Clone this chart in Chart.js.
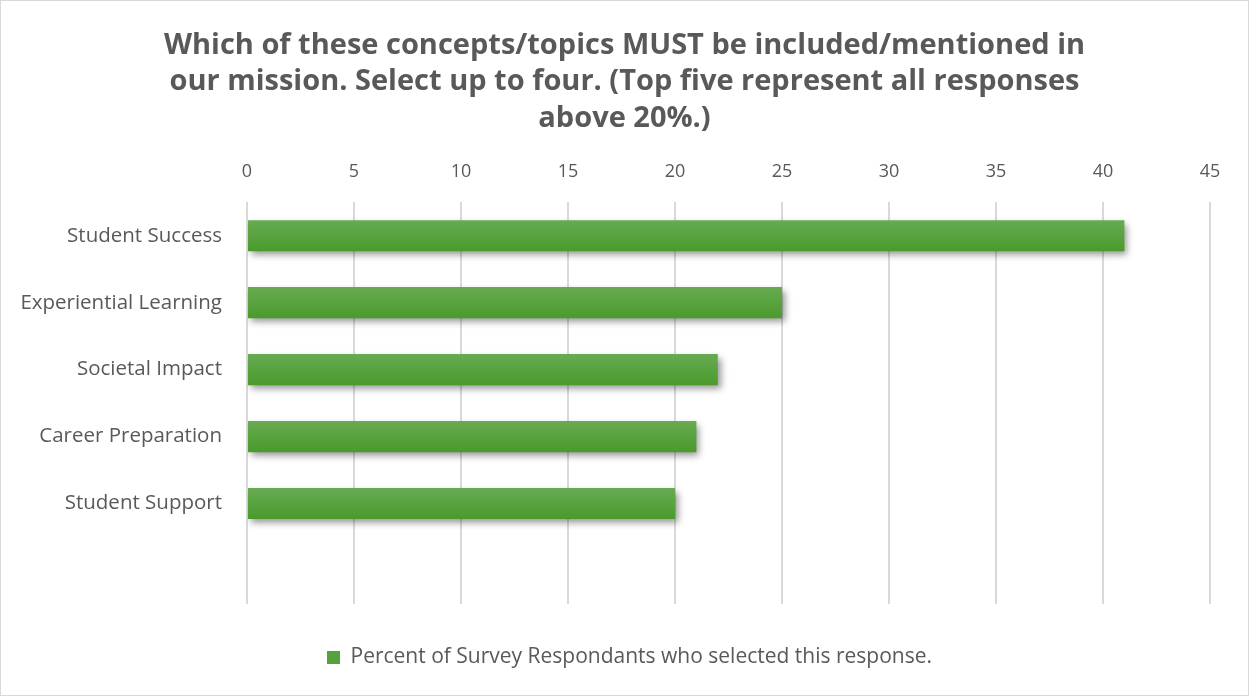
<!DOCTYPE html>
<html><head><meta charset="utf-8">
<script src="https://cdn.jsdelivr.net/npm/chart.js@4"></script>
<style>
html,body{margin:0;padding:0;background:#fff;}
#wrap{position:absolute;left:0;top:0;width:1247px;height:694px;border:1px solid #d9d9d9;}
</style></head>
<body><div id="wrap"><canvas id="c" width="1247" height="694"></canvas></div>
<script>
const titleLines = ["Which of these concepts/topics MUST be included/mentioned in", "our mission. Select up to four. (Top five represent all responses", "above 20%.)"];
const categories = ["Student Success", "Experiential Learning", "Societal Impact", "Career Preparation", "Student Support", ""];
const seriesName = "Percent of Survey Respondants who selected this response.";
const values = [41, 25, 22, 21, 20, null];
const xTicks = [0, 5, 10, 15, 20, 25, 30, 35, 40, 45];

const BAR_PCT = 0.465;
function barGradient(ctx) {
  const chart = ctx.chart;
  const y = chart.scales && chart.scales.y;
  if (!y || ctx.type !== 'data' || !y.height) return '#55a13a';
  const c = y.getPixelForValue(ctx.dataIndex);
  const slot = y.height / categories.length;
  const h = slot * BAR_PCT / 2;
  const g = chart.ctx.createLinearGradient(0, c - h, 0, c + h);
  g.addColorStop(0, '#67ab52');
  g.addColorStop(1, '#4a9a2c');
  return g;
}

const shadowPlugin = {
  id: 'shadow',
  afterLayout(chart) {
    const t = chart.titleBlock;
    if (t) { t.left = 0; t.right = chart.width; t.width = chart.width; }
    const l = chart.legend;
    if (l) { l.left = 10; l.right = chart.width; l.width = chart.width - 10; }
  },
  beforeDatasetsDraw(chart) {
    const c = chart.ctx; c.save();
    c.shadowColor = 'rgba(0,0,0,0.42)';
    c.shadowBlur = 7; c.shadowOffsetX = 3; c.shadowOffsetY = 4;
  },
  afterDatasetsDraw(chart) { chart.ctx.restore(); }
};

new Chart(document.getElementById('c'), {
  type: 'bar',
  data: {
    labels: categories,
    datasets: [{
      label: seriesName,
      data: values,
      backgroundColor: barGradient,
      borderWidth: 0,
      categoryPercentage: 1,
      barPercentage: BAR_PCT
    }]
  },
  options: {
    indexAxis: 'y',
    responsive: false,
    animation: false,
    layout: { padding: { left: 14, right: 38, top: 0, bottom: 17 } },
    scales: {
      x: {
        position: 'top',
        min: 0, max: 45,
        afterBuildTicks(s) { s.ticks = xTicks.map(v => ({ value: v })); },
        ticks: { color: '#595959', font: { family: 'Open Sans', size: 18 }, padding: 20 },
        grid: { color: '#d9d9d9', lineWidth: 2, drawTicks: false },
        border: { display: false }
      },
      y: {
        afterFit(s) { s.width = 232; },
        ticks: { color: '#595959', font: { family: 'Open Sans', size: 20.5 }, padding: 17 },
        grid: { display: false },
        border: { display: false }
      }
    },
    plugins: {
      title: {
        display: true,
        text: titleLines,
        color: '#595959',
        font: { family: 'Open Sans', size: 29, weight: 'bold', lineHeight: 1.26 },
        padding: { top: 26, bottom: 4 }
      },
      legend: {
        position: 'bottom',
        labels: {
          color: '#595959',
          font: { family: 'Open Sans', size: 21 },
          boxWidth: 13, boxHeight: 13, padding: 43,
          generateLabels(chart) {
            return [{ text: seriesName, fillStyle: '#55a13a', strokeStyle: '#55a13a', lineWidth: 0, datasetIndex: 0, fontColor: '#595959' }];
          }
        }
      },
      tooltip: { enabled: false }
    }
  },
  plugins: [shadowPlugin]
});
</script>
</body></html>
